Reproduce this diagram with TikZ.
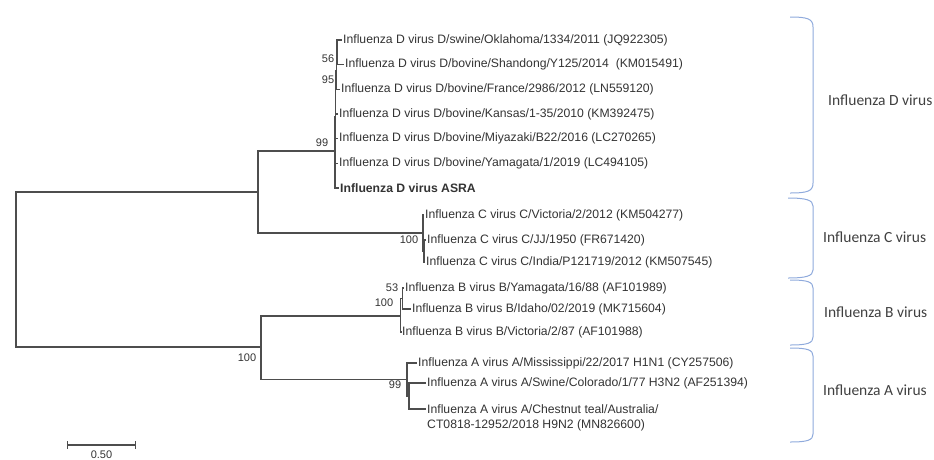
\documentclass[tikz,border=0pt]{standalone}
\usepackage{fontspec}
\setmainfont{Liberation Sans}
\newfontfamily\grpfont{Carlito}
\usetikzlibrary{positioning}
\definecolor{treegray}{HTML}{4D4D4D}
\definecolor{leafgray}{HTML}{333333}
\definecolor{bracketblue}{HTML}{8FAADC}
\definecolor{groupgray}{HTML}{404040}

\begin{document}
\begin{tikzpicture}[x=1pt,y=-1pt,
  tree/.style={draw=treegray,line width=1.3pt},
  leaf/.style={anchor=west,inner sep=1pt,text=leafgray,font=\fontsize{12.2}{14}\selectfont},
  boot/.style={inner sep=0pt,text=leafgray,font=\fontsize{11}{13}\selectfont},
  grplabel/.style={anchor=west,inner sep=0pt,text=groupgray,font=\grpfont\fontsize{15.5}{18}\selectfont},
  brace/.style={draw=bracketblue,line width=1pt}]
  \useasboundingbox (0,0) rectangle (934,459);

  % internal nodes
  \coordinate (r) at (16,269.5);
  \coordinate (nDC) at (258,192);
  \coordinate (nD) at (335,151);
  \coordinate (nX) at (335.7,117);
  \coordinate (n95) at (336.3,70.8);
  \coordinate (n56) at (337,52.3);
  \coordinate (nC) at (423,233);
  \coordinate (nC2) at (424,251);
  \coordinate (nBA) at (261,347);
  \coordinate (nB) at (400.5,316);
  \coordinate (n53) at (402.5,298.5);
  \coordinate (nA) at (407,379.5);
  \coordinate (nA2) at (409,396);

  % leaves
  \node[leaf] (dok) at (342,40) {Influenza D virus D/swine/Oklahoma/1334/2011 (JQ922305)};
  \node[leaf] (dsd) at (344,64.7) {Influenza D virus D/bovine/Shandong/Y125/2014~ (KM015491)};
  \node[leaf] (dfr) at (340,89.3) {Influenza D virus D/bovine/France/2986/2012 (LN559120)};
  \node[leaf] (dks) at (338,114) {Influenza D virus D/bovine/Kansas/1-35/2010 (KM392475)};
  \node[leaf] (dmz) at (338,138.7) {Influenza D virus D/bovine/Miyazaki/B22/2016 (LC270265)};
  \node[leaf] (dym) at (338,163.3) {Influenza D virus D/bovine/Yamagata/1/2019 (LC494105)};
  \node[leaf] (dasra) at (339,188) {\textbf{Influenza D virus ASRA}};
  \node[leaf] (cvic) at (424,215) {Influenza C virus C/Victoria/2/2012 (KM504277)};
  \node[leaf] (cjj) at (426,240) {Influenza C virus C/JJ/1950 (FR671420)};
  \node[leaf] (cind) at (425,262) {Influenza C virus C/India/P121719/2012 (KM507545)};
  \node[leaf] (byam) at (404,288) {Influenza B virus B/Yamagata/16/88 (AF101989)};
  \node[leaf] (bida) at (411,309) {Influenza B virus B/Idaho/02/2019 (MK715604)};
  \node[leaf] (bvic) at (401,332) {Influenza B virus B/Victoria/2/87 (AF101988)};
  \node[leaf] (amis) at (417,363) {Influenza A virus A/Mississippi/22/2017 H1N1 (CY257506)};
  \node[leaf] (acol) at (426,383) {Influenza A virus A/Swine/Colorado/1/77 H3N2 (AF251394)};
  \node[leaf] (ache) at (426,409) {Influenza A virus A/Chestnut teal/Australia/};
  \node[leaf] (acheb) at ([yshift=-16pt]ache.west) {CT0818-12952/2018 H9N2 (MN826600)};

  % branches
  \draw[tree] (r) |- (nDC);
  \draw[tree] (r) |- (nBA);
  \draw[tree] (nDC) |- (nD);
  \draw[tree] (nDC) |- (nC);
  \draw[tree] (nD) |- (nX);
  \draw[tree] (nD) |- (dasra.west);
  \draw[tree] (nX) |- (n95);
  \draw[tree] (nX) |- (dks.west);
  \draw[tree] (nX) |- (dmz.west);
  \draw[tree] (nX) |- (dym.west);
  \draw[tree] (n95) |- (n56);
  \draw[tree] (n95) |- (dfr.west);
  \draw[tree] (n56) |- (dok.west);
  \draw[tree] (n56) |- (dsd.west);
  \draw[tree] (nC) |- (cvic.west);
  \draw[tree] (nC) |- (nC2);
  \draw[tree] (nC2) |- (cjj.west);
  \draw[tree] (nC2) |- (cind.west);
  \draw[tree] (nBA) |- (nB);
  \draw[tree] (nBA) |- (nA);
  \draw[tree] (nB) |- (n53);
  \draw[tree] (nB) |- (bvic.west);
  \draw[tree] (n53) |- (byam.west);
  \draw[tree] (n53) |- (bida.west);
  \draw[tree] (nA) |- (amis.west);
  \draw[tree] (nA) |- (nA2);
  \draw[tree] (nA2) |- (acol.west);
  \draw[tree] (nA2) |- (ache.west);

  % bootstrap values
  \node[boot] (b56) at (328,59) {56};
  \node[boot] (b95) at (328,80) {95};
  \node[boot] (b99d) at (322,143) {99};
  \node[boot] (b100c) at (409,240) {100};
  \node[boot] (b53) at (392,288) {53};
  \node[boot] (b100b) at (384,303) {100};
  \node[boot] (b100ba) at (247,358) {100};
  \node[boot] (b99a) at (395,385) {99};

  % brackets and group names
  \draw[brace] (790,17) .. controls (808,17) and (813,19) .. (813,27) -- (813,183) .. controls (813,191) and (808,193) .. (790,193);
  \draw[brace] (788,198) .. controls (806,198) and (813,200) .. (813,206) -- (813,270) .. controls (813,276) and (806,278) .. (788,278);
  \draw[brace] (790,280) .. controls (808,280) and (813,282) .. (813,288) -- (813,337) .. controls (813,343) and (808,345) .. (790,345);
  \draw[brace] (790,348) .. controls (808,348) and (813,350) .. (813,356) -- (813,434) .. controls (813,440) and (808,442) .. (790,442);
  \node[grplabel] (gD) at (828,100) {Influenza D virus};
  \node[grplabel] (gC) at (823,237) {Influenza C virus};
  \node[grplabel] (gB) at (824,312) {Influenza B virus};
  \node[grplabel] (gA) at (823,390) {Influenza A virus};

  % scale bar
  \coordinate (sb1) at (67,445);
  \coordinate (sb2) at (136,445);
  \draw[draw=treegray,line width=1.2pt,|-|] (sb1) -- node[boot,below=5pt] (sblabel) {0.50} (sb2);
\end{tikzpicture}
\end{document}
